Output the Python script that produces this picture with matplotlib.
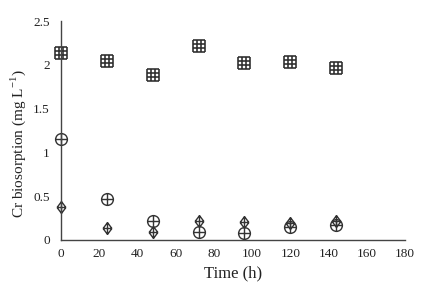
import numpy as np
import matplotlib
matplotlib.use('Agg')
import matplotlib.pyplot as plt
from matplotlib.path import Path
from matplotlib.ticker import FuncFormatter

plt.rcParams['font.family'] = ['Liberation Serif', 'DejaVu Serif']

time_h = [0, 24, 48, 72, 96, 120, 144]
square_vals = [2.14, 2.04, 1.88, 2.22, 2.02, 2.03, 1.96]
circle_vals = [1.15, 0.47, 0.22, 0.09, 0.08, 0.15, 0.17]
diamond_vals = [0.38, 0.13, 0.09, 0.21, 0.20, 0.19, 0.22]

xticks = [0, 20, 40, 60, 80, 100, 120, 140, 160, 180]
yticks = [0, 0.5, 1, 1.5, 2, 2.5]


def lines_path(segs):
    verts, codes = [], []
    for a, b in segs:
        verts += [a, b]
        codes += [Path.MOVETO, Path.LINETO]
    return Path(verts, codes)

# grid square marker
s = 1.0
t = s / 3
grid_square = lines_path([((-s, -s), (s, -s)), ((s, -s), (s, s)), ((s, s), (-s, s)), ((-s, s), (-s, -s)),
                          ((-t, -s), (-t, s)), ((t, -s), (t, s)), ((-s, -t), (s, -t)), ((-s, t), (s, t))])
# circle with cross
circ = Path.unit_circle()
circle_cross = Path.make_compound_path(circ, lines_path([((-1, 0), (1, 0)), ((0, -1), (0, 1))]))
# diamond with cross
diamond_cross = lines_path([((0, -1), (0.75, 0)), ((0.75, 0), (0, 1)), ((0, 1), (-0.75, 0)), ((-0.75, 0), (0, -1)),
                            ((-0.75, 0), (0.75, 0)), ((0, -1), (0, 1))])

fig = plt.figure(figsize=(4.35, 2.89), dpi=100)
ax = fig.add_axes([0.140, 0.170, 0.791, 0.757])

ax.plot(time_h, square_vals, linestyle='none', marker=grid_square, markersize=9,
        markerfacecolor='none', markeredgecolor='#333333', markeredgewidth=1.2)
ax.plot(time_h, circle_vals, linestyle='none', marker=circle_cross, markersize=8.5,
        markerfacecolor='none', markeredgecolor='#333333', markeredgewidth=1.0)
ax.plot(time_h, diamond_vals, linestyle='none', marker=diamond_cross, markersize=8.5,
        markerfacecolor='none', markeredgecolor='#333333', markeredgewidth=1.0)

ax.set_xlim(0, 180)
ax.set_ylim(0, 2.5)
ax.set_xticks(xticks)
ax.set_yticks(yticks)
ax.yaxis.set_major_formatter(FuncFormatter(lambda v, p: f"{v:g}"))
ax.tick_params(length=0, labelsize=9.5, colors='#222222', pad=6)
ax.tick_params(axis='y', pad=8)
for sp in ['top', 'right']:
    ax.spines[sp].set_visible(False)
for sp in ['left', 'bottom']:
    ax.spines[sp].set_color('#444444')
    ax.spines[sp].set_linewidth(1.0)
for m in ax.lines:
    m.set_clip_on(False)

ax.set_xlabel('Time (h)', fontsize=12, labelpad=4, color='#222222')
ax.set_ylabel('Cr biosorption (mg L$^{\\mathregular{-1}}$)', fontsize=11, color='#222222',
              va='center')
ax.yaxis.set_label_coords(-0.125, 0.44)

fig.savefig('out.png', dpi=100)
